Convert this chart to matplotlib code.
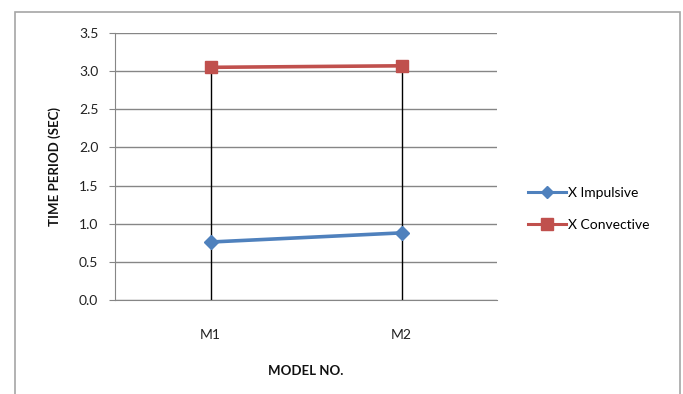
import numpy as np
import matplotlib.pyplot as plt
from matplotlib.patches import Rectangle
from matplotlib.lines import Line2D

models = ['M1', 'M2']
x_impulsive = [0.76, 0.88]
x_convective = [3.05, 3.07]
y_ticks = [0.0, 0.5, 1.0, 1.5, 2.0, 2.5, 3.0, 3.5]

plt.rcParams['font.family'] = ['Lato', 'DejaVu Sans']

blue = '#4F81BD'
red = '#C0504D'
grid_grey = '#868686'

fig = plt.figure(figsize=(6.83, 3.94), dpi=100)
# chart area border
fig.patches.append(Rectangle((15 / 683, -0.05), 665 / 683, 1.05 - 12 / 394,
                             transform=fig.transFigure, fill=False,
                             edgecolor='#A6A6A6', linewidth=1.2))

ax = fig.add_axes([115 / 683, 1 - 300 / 394, 382 / 683, 267 / 394])
xs = np.arange(len(models))

# drop lines from the highest point down to the axis
tops = np.maximum(x_impulsive, x_convective)
ax.vlines(xs, 0, tops, colors='black', linewidth=1.0, zorder=2)

ax.plot(xs, x_impulsive, color=blue, linewidth=2.6, marker='D',
        markersize=7, zorder=3, label='X Impulsive')
ax.plot(xs, x_convective, color=red, linewidth=2.6, marker='s',
        markersize=9, zorder=3, label='X Convective')

ax.set_xlim(-0.5, len(models) - 0.5)
ax.set_ylim(0, 3.5)
ax.set_yticks(y_ticks)
ax.set_yticklabels([f'{v:.1f}' for v in y_ticks])
ax.set_xticks(xs)
ax.set_xticklabels(models)
ax.yaxis.grid(True, color=grid_grey, linewidth=1.0)
ax.set_axisbelow(True)

for side in ['top', 'right']:
    ax.spines[side].set_visible(False)
ax.spines['left'].set_color(grid_grey)
ax.spines['bottom'].set_color(grid_grey)
ax.tick_params(axis='y', length=4, color=grid_grey, pad=8, labelsize=10,
               labelcolor='#222222')
ax.tick_params(axis='x', length=0, pad=21, labelsize=10, labelcolor='#222222')

ax.set_ylabel('TIME PERIOD (SEC)', fontsize=9.5, fontweight='bold',
              labelpad=13, color='#111111')
ax.set_xlabel('MODEL NO.', fontsize=9.5, fontweight='bold', labelpad=17,
              color='#111111')

handles = [Line2D([], [], color=blue, linewidth=2.2, marker='D', markersize=6),
           Line2D([], [], color=red, linewidth=2.2, marker='s', markersize=8)]
fig.legend(handles, ['X Impulsive', 'X Convective'], loc='center left',
           bbox_to_anchor=(515 / 683, 1 - 209 / 394), frameon=False,
           fontsize=10, handlelength=2.8, handletextpad=0.1,
           labelspacing=1.45)

fig.savefig('out.png', dpi=100)
